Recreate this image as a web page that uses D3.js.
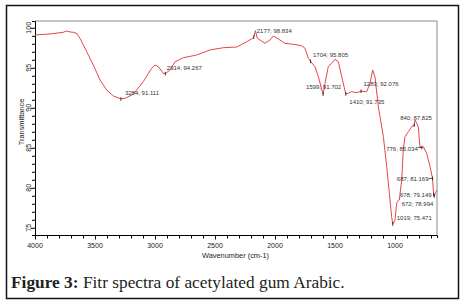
<!DOCTYPE html>
<html><head><meta charset="utf-8">
<script src="https://cdn.jsdelivr.net/npm/d3@7"></script>
<style>body{margin:0;background:#fff}svg{display:block}</style>
</head><body>
<script>
// Spectrum data (wavenumber cm-1, % transmittance)
const wavenumbers = [4000,3875,3764,3736,3708,3681,3653,3625,3569,3514,3458,3403,3347,3284,3250,3181,3098,3028,3000,2972,2931,2914,2875,2833,2764,2653,2542,2431,2319,2236,2190,2177,2163,2148,2125,2083,2042,2014,1972,1917,1847,1778,1750,1722,1704,1667,1639,1599,1583,1556,1528,1500,1472,1444,1410,1389,1361,1319,1283,1236,1208,1186,1167,1139,1125,1097,1069,1047,1028,1019,1000,986,978,972,964,944,931,917,889,861,840,833,819,806,792,776,764,736,708,687,678,672,662,650];
const transmittance = [99.10,99.23,99.44,99.60,99.48,99.44,99.31,98.69,97.01,95.35,93.48,92.23,91.48,91.111,91.19,91.69,93.26,94.94,95.35,95.14,94.31,94.267,94.73,95.76,96.26,96.60,97.23,97.51,97.60,98.26,98.65,98.834,99.65,98.70,98.47,98.06,98.47,98.98,98.60,98.06,97.94,97.76,97.44,96.19,95.805,95.14,93.89,91.702,93.06,95.14,95.56,96.06,95.76,93.89,91.735,91.81,92.01,91.89,92.076,92.01,93.06,94.73,93.89,90.14,88.89,86.39,82.64,79.31,76.39,75.471,75.98,78.06,78.30,78.45,78.48,80.98,84.73,86.39,87.01,87.64,87.825,88.48,88.06,87.64,85.14,85.034,85.14,84.31,82.64,81.169,79.149,78.994,79.40,79.70];
const peakWavenumbers = [3284,2914,2177,1704,1599,1410,1283,840,776,687,678,672,1019];
const peakValues = [91.111,94.267,98.834,95.805,91.702,91.735,92.076,87.825,85.034,81.169,79.149,78.994,75.471];
const peakLabels = peakWavenumbers.map((w,i)=>w+"; "+peakValues[i].toFixed(3));
const xTicks = [4000,3500,3000,2500,2000,1500,1000];
const yTicks = [75,80,85,90,95,100];
// label layout (px offsets from marker), not data
const labelLayout = [[4,-4,"start"],[1.5,-3.5,"start"],[3,-4,"start"],[2.5,-4,"start"],[-17,-5.5,"start"],[3.5,10,"start"],[2.5,-5,"start"],[-14,-5.7,"start"],[-4,3,"end",true],[-4,3,"end",true],[-2,2.5,"end"],[-1,10,"end"],[4,-4.5,"start"]];

const W=468,H=305;
const svg=d3.select("body").append("svg").attr("width",W).attr("height",H);
svg.append("rect").attr("width",W).attr("height",H).attr("fill","#fff");
svg.append("rect").attr("x",6.5).attr("y",5.5).attr("width",452).attr("height",293)
  .attr("fill","none").attr("stroke","#111").attr("stroke-width",1.5);

const x=d3.scaleLinear().domain([4000,650]).range([35,437]);
const y=d3.scaleLinear().domain([74.1,100.85]).range([235,21]);
const font="Arial, 'Liberation Sans', sans-serif";

// frame: top & right gray
svg.append("line").attr("x1",35).attr("x2",437).attr("y1",21).attr("y2",21).attr("stroke","#8a8a8a").attr("stroke-width",1);
svg.append("line").attr("x1",437).attr("x2",437).attr("y1",21).attr("y2",235).attr("stroke","#8a8a8a").attr("stroke-width",1);

// x axis
const gx=svg.append("g").attr("transform","translate(0,235)");
gx.call(d3.axisBottom(x).tickValues(d3.range(4000,649,-100)).tickSize(3).tickFormat(""))
gx.select(".domain").attr("stroke","#000");
gx.selectAll(".tick line").attr("stroke","#000").attr("y2",d=>d%500===0?4.5:3.5);
gx.selectAll(".tick text").remove();
gx.selectAll(".lbl").data(xTicks).enter().append("text")
  .attr("x",d=>x(d)).attr("y",13).attr("text-anchor","middle")
  .attr("font-family",font).attr("font-size",7).attr("fill","#222").text(d=>d);

// y axis
const gy=svg.append("g").attr("transform","translate(35,0)");
gy.call(d3.axisLeft(y).tickValues(d3.range(75,101,1)).tickSize(3).tickFormat(""));
gy.select(".domain").attr("stroke","#000");
gy.selectAll(".tick line").attr("stroke","#000").attr("x2",d=>d%5===0?-4.5:-3);
gy.selectAll(".lbl").data(yTicks).enter().append("text")
  .attr("transform",d=>`translate(-4.5,${y(d)}) rotate(-90)`).attr("text-anchor","middle")
  .attr("font-family",font).attr("font-size",7).attr("fill","#222").text(d=>d);

// titles
svg.append("text").attr("x",235.5).attr("y",258).attr("text-anchor","middle")
  .attr("font-family",font).attr("font-size",7.4).attr("fill","#222").text("Wavenumber (cm-1)");
svg.append("text").attr("transform","translate(24,122) rotate(-90)").attr("text-anchor","middle")
  .attr("font-family",font).attr("font-size",7.4).attr("fill","#222").text("Transmittance");

// curve
const data=wavenumbers.map((w,i)=>[w,transmittance[i]]);
svg.append("path").datum(data).attr("fill","none").attr("stroke","#e8444c").attr("stroke-width",1)
  .attr("stroke-linejoin","round")
  .attr("d",d3.line().x(d=>x(d[0])).y(d=>y(d[1])));

// peak markers and labels
const pk=svg.append("g");
peakWavenumbers.forEach((w,i)=>{
  const px=x(w),py=y(peakValues[i]);
  const L=labelLayout[i];
  pk.append("line").attr("x1",px).attr("x2",px).attr("y1",py-1.8).attr("y2",py+1.8).attr("stroke","#222").attr("stroke-width",0.9);
  if(L[3]) pk.append("line").attr("x1",px+L[0]).attr("x2",px).attr("y1",py).attr("y2",py).attr("stroke","#222").attr("stroke-width",0.8);
  pk.append("text").attr("x",px+L[0]).attr("y",py+L[1]).attr("text-anchor",L[2])
    .attr("font-family",font).attr("font-size",6).attr("fill","#333").text(peakLabels[i]);
});

// caption
const cap=svg.append("text").attr("x",11).attr("y",288).attr("font-family","'Liberation Serif','Times New Roman',serif").attr("font-size",14).attr("fill","#231f20");
cap.append("tspan").attr("font-weight","bold").text("Figure 3:");
cap.append("tspan").text(" Fitr spectra of acetylated gum Arabic.");
const len=cap.node().getComputedTextLength();
cap.attr("font-size",14*334/len);
</script>
</body></html>
